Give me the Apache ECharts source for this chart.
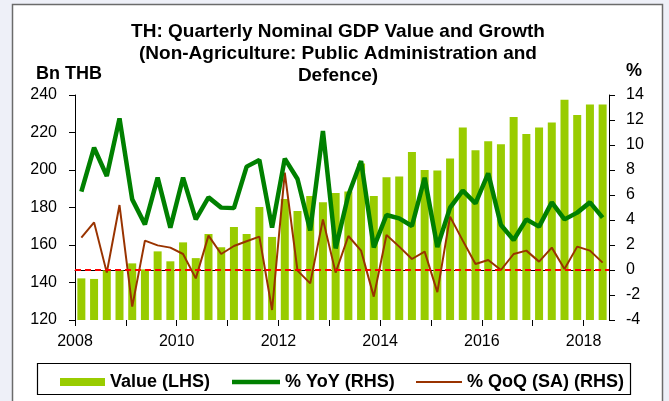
<!DOCTYPE html>
<html>
<head>
<meta charset="utf-8">
<script src="https://cdn.jsdelivr.net/npm/echarts@6/dist/echarts.min.js"></script>
<style>
  html, body { margin: 0; padding: 0; background: #eef0f8; }
  #chart { width: 669px; height: 401px; }
</style>
</head>
<body>
<div id="chart"></div>
<script>
// Quarters from 2008Q1 to 2018Q2
const quarters = [
  '2008Q1','2008Q2','2008Q3','2008Q4','2009Q1','2009Q2','2009Q3','2009Q4',
  '2010Q1','2010Q2','2010Q3','2010Q4','2011Q1','2011Q2','2011Q3','2011Q4',
  '2012Q1','2012Q2','2012Q3','2012Q4','2013Q1','2013Q2','2013Q3','2013Q4',
  '2014Q1','2014Q2','2014Q3','2014Q4','2015Q1','2015Q2','2015Q3','2015Q4',
  '2016Q1','2016Q2','2016Q3','2016Q4','2017Q1','2017Q2','2017Q3','2017Q4',
  '2018Q1','2018Q2'
];

// Nominal GDP value, Bn THB (left axis)
const valueLHS = [
  142.2, 141.9, 146.5, 146.5, 150.2, 147.0, 156.6, 151.3,
  161.4, 153.0, 165.9, 158.8, 169.6, 165.9, 180.3, 164.3,
  184.5, 178.1, 186.1, 182.8, 187.8, 188.6, 203.5, 186.1,
  196.1, 196.5, 209.6, 200.0, 199.8, 206.2, 222.7, 210.5,
  215.3, 213.7, 228.3, 219.2, 222.7, 225.4, 237.5, 229.3,
  235.0, 235.0
];

// Year-on-year growth, % (right axis)
const yoyRHS = [
  6.27, 9.78, 7.52, 12.13, 5.65, 3.65, 7.39, 3.39,
  7.39, 4.05, 5.81, 4.99, 4.95, 8.27, 8.80, 3.39,
  8.91, 7.28, 3.17, 11.12, 1.73, 6.00, 8.72, 1.81,
  4.40, 4.13, 3.52, 7.38, 1.84, 4.99, 6.35, 5.33,
  7.73, 3.60, 2.40, 4.05, 3.47, 5.41, 4.05, 4.59,
  5.41, 4.19
];

// Quarter-on-quarter growth, seasonally adjusted, % (right axis)
const qoqRHS = [
  2.59, 3.81, -0.21, 5.20, -2.93, 2.35, 1.97, 1.79,
  1.28, -0.67, 2.75, 1.28, 1.92, 2.30, 2.67, -3.20,
  7.79, -0.05, -1.07, 4.05, -0.21, 2.72, 1.55, -2.13,
  2.80, 1.87, 0.88, 1.47, -1.77, 4.27, 2.35, 0.48,
  0.80, 0.00, 1.28, 1.55, 0.67, 1.79, 0.08, 1.87,
  1.55, 0.59
];

// Axis ticks
const leftTicks = [120, 140, 160, 180, 200, 220, 240];
const rightTicks = [-4, -2, 0, 2, 4, 6, 8, 10, 12, 14];
const yearTicks = [2008, 2009, 2010, 2011, 2012, 2013, 2014, 2015, 2016, 2017, 2018];
const yearLabels = [2008, 2010, 2012, 2014, 2016, 2018];

const FONT = '"Liberation Sans", Arial, sans-serif';
const names = ['Value (LHS)', '% YoY (RHS)', '% QoQ (SA) (RHS)'];
const colors = { value: '#99cc00', yoy: '#008000', qoq: '#993300', zero: '#ff0000' };

const legendText = { fontFamily: FONT, fontSize: 18, fontWeight: 'bold', color: '#000' };
const tickText = { fontFamily: FONT, fontSize: 16, color: '#000' };

const chart = echarts.init(document.getElementById('chart'), null, { renderer: 'canvas' });

const option = {
  animation: false,
  backgroundColor: 'transparent',
  textStyle: { fontFamily: FONT },
  title: [
    {
      text: 'TH: Quarterly Nominal GDP Value and Growth\n(Non-Agriculture: Public Administration and\nDefence)',
      left: 333, top: 16, textAlign: 'center',
      textStyle: { fontFamily: FONT, fontSize: 19, fontWeight: 'bold', color: '#000', lineHeight: 22, align: 'center' }
    },
    {
      text: 'Bn THB', left: 31, top: 60,
      textStyle: { fontFamily: FONT, fontSize: 18, fontWeight: 'bold', color: '#000' }
    },
    {
      text: '%', left: 621, top: 57,
      textStyle: { fontFamily: FONT, fontSize: 18, fontWeight: 'bold', color: '#000' }
    }
  ],
  graphic: [
    {
      type: 'rect', z: -100, silent: true,
      shape: { x: 12.5, y: 4.5, width: 650, height: 420 },
      style: { fill: '#ffffff', stroke: '#6b6b6b', lineWidth: 1.5 }
    },
    {
      type: 'rect', z: -90, silent: true,
      shape: { x: 37.5, y: 363.5, width: 593, height: 31 },
      style: { fill: '#ffffff', stroke: '#000000', lineWidth: 1.2 }
    }
  ],
  // One legend per series so each key keeps its own swatch thickness
  legend: [
    {
      data: [{ name: names[0], icon: 'rect' }],
      left: 55, top: 368, itemWidth: 45, itemHeight: 8,
      textStyle: legendText, selectedMode: false
    },
    {
      data: [{ name: names[1], icon: 'rect' }],
      left: 227, top: 368, itemWidth: 48, itemHeight: 4.5,
      textStyle: legendText, selectedMode: false
    },
    {
      data: [{ name: names[2], icon: 'rect' }],
      left: 411, top: 368, itemWidth: 46, itemHeight: 2,
      textStyle: legendText, selectedMode: false
    }
  ],
  grid: { left: 75, right: 60, top: 95, bottom: 81 },
  xAxis: [
    {
      type: 'category', data: quarters, boundaryGap: true,
      axisLine: { show: true, lineStyle: { color: '#000', width: 1 } },
      axisTick: { show: false }, axisLabel: { show: false }, splitLine: { show: false }
    },
    {
      type: 'value', position: 'bottom',
      min: yearTicks[0], max: 2018.5,
      axisLine: { show: false },
      axisTick: { show: true, length: 6, lineStyle: { color: '#000' }, customValues: yearTicks },
      axisLabel: Object.assign({ margin: 14, customValues: yearLabels, formatter: v => String(v) }, tickText),
      splitLine: { show: false }
    }
  ],
  yAxis: [
    {
      type: 'value', position: 'left',
      min: leftTicks[0], max: leftTicks[leftTicks.length - 1], interval: leftTicks[1] - leftTicks[0],
      axisLine: { show: true, lineStyle: { color: '#000', width: 1 } },
      axisTick: { show: true, length: 6, lineStyle: { color: '#000' } },
      axisLabel: Object.assign({ margin: 18 }, tickText),
      splitLine: { show: false }
    },
    {
      type: 'value', position: 'right',
      min: rightTicks[0], max: rightTicks[rightTicks.length - 1], interval: rightTicks[1] - rightTicks[0],
      axisLine: { show: true, lineStyle: { color: '#000', width: 1 } },
      axisTick: { show: true, length: 6, lineStyle: { color: '#000' } },
      axisLabel: Object.assign({ margin: 17 }, tickText),
      splitLine: { show: false }
    }
  ],
  series: [
    {
      name: names[0], type: 'bar', xAxisIndex: 0, yAxisIndex: 0,
      data: valueLHS, barWidth: 8,
      itemStyle: { color: colors.value }, z: 1
    },
    {
      name: names[2], type: 'line', xAxisIndex: 0, yAxisIndex: 1,
      data: qoqRHS, symbol: 'none',
      lineStyle: { color: colors.qoq, width: 2 }, itemStyle: { color: colors.qoq }, z: 3,
      markLine: {
        silent: true, symbol: 'none', label: { show: false },
        lineStyle: { color: colors.zero, type: [6, 4], width: 2 },
        data: [{ yAxis: 0 }]
      }
    },
    {
      name: names[1], type: 'line', xAxisIndex: 0, yAxisIndex: 1,
      data: yoyRHS, symbol: 'none',
      lineStyle: { color: colors.yoy, width: 4.5 }, itemStyle: { color: colors.yoy }, z: 4
    }
  ]
};

chart.setOption(option);
</script>
</body>
</html>
